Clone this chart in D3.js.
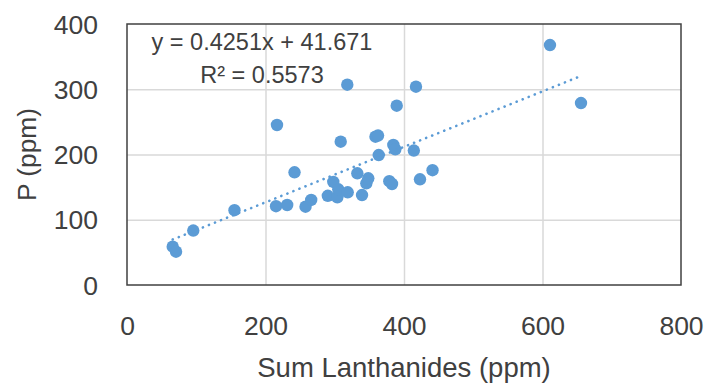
<!DOCTYPE html>
<html>
  <head>
    <title>P vs Sum Lanthanides</title>
    <script src="https://cdn.jsdelivr.net/npm/d3@7"></script>
  </head>
<style>
body {
    margin: 0;
    background: #ffffff;
}
text {
    font-family: 'Liberation Sans', Arial, sans-serif;
    fill: #404040;
}
</style>
  <body>
  </body>
<script>
// sum lanthanides (ppm)
var lanthanides = [66, 70.8, 95.7, 155.2, 216.6, 215.2, 231.3, 241.9, 257.8, 266,
                   290, 297.9, 303.7, 305.1, 308.6, 318.1, 318.7, 332.6, 339.4, 345.6,
                   348.4, 358.8, 362.5, 363.5, 378.8, 382.7, 384.6, 387.5, 389.5, 414.2,
                   417.3, 423.1, 441.2, 610.8, 655.6];
// P (ppm)
var phosphorus = [58.7, 51, 83.5, 114.6, 245.2, 120.8, 122.6, 172.7, 120, 130.3,
                  136.7, 157.9, 134.4, 146.7, 219.6, 307, 142.1, 171.2, 137.9, 155.9,
                  163.5, 227.3, 229.1, 199.2, 159.1, 154.8, 214.6, 208, 274.8, 206.1,
                  303.9, 162, 175.9, 367.8, 278.9];

var xTicks = [0, 200, 400, 600, 800];
var yTicks = [0, 100, 200, 300, 400];

// linear trendline as printed on the chart
var slope = 0.4251;
var intercept = 41.671;
var eqLabel = "y = 0.4251x + 41.671";
var r2Label = "R\u00B2 = 0.5573";

var width = 707, height = 384;
var margin = {top: 24, right: 26, bottom: 99, left: 127};
var w = width - margin.left - margin.right;
var h = height - margin.top - margin.bottom;

var svg = d3.select("body").append("svg")
    .attr("width", width)
    .attr("height", height);

var g = svg.append("g")
    .attr("transform", "translate(" + margin.left + "," + margin.top + ")");

var x = d3.scaleLinear().domain([0, 800]).range([0, w]);
var y = d3.scaleLinear().domain([0, 400]).range([h, 0]);

// gridlines
g.append("g")
    .attr("transform", "translate(0," + h + ")")
    .call(d3.axisBottom(x).tickValues(xTicks.slice(1, -1)).tickSize(-h).tickFormat(""))
    .call(function(s) { s.select(".domain").remove(); })
    .selectAll("line").attr("stroke", "#d9d9d9").attr("stroke-width", 1.5);

g.append("g")
    .call(d3.axisLeft(y).tickValues(yTicks.slice(1, -1)).tickSize(-w).tickFormat(""))
    .call(function(s) { s.select(".domain").remove(); })
    .selectAll("line").attr("stroke", "#d9d9d9").attr("stroke-width", 1.5);

// plot area border
g.append("rect")
    .attr("width", w)
    .attr("height", h)
    .attr("fill", "none")
    .attr("stroke", "#404040")
    .attr("stroke-width", 1.5);

// tick labels
var xAxis = g.append("g")
    .attr("transform", "translate(0," + h + ")")
    .call(d3.axisBottom(x).tickValues(xTicks).tickSize(0));
xAxis.select(".domain").remove();
xAxis.selectAll("text")
    .attr("y", 50).attr("dy", 0)
    .style("font-size", "26.5px")
    .style("font-family", "'Liberation Sans', Arial, sans-serif")
    .attr("fill", "#404040");

var yAxis = g.append("g")
    .call(d3.axisLeft(y).tickValues(yTicks).tickSize(0));
yAxis.select(".domain").remove();
yAxis.selectAll("text")
    .attr("x", -29).attr("dy", 9)
    .style("font-size", "26.5px")
    .style("font-family", "'Liberation Sans', Arial, sans-serif")
    .attr("fill", "#404040");

// points
var pts = lanthanides.map(function(d, i) { return [d, phosphorus[i]]; });
g.selectAll("circle")
    .data(pts)
    .enter()
    .append("circle")
    .attr("cx", function(d) { return x(d[0]); })
    .attr("cy", function(d) { return y(d[1]); })
    .attr("r", 6.2)
    .attr("fill", "#5b9bd5");

// trendline
var ext = d3.extent(lanthanides);
var line = d3.line()
    .x(function(d) { return x(d); })
    .y(function(d) { return y(slope * d + intercept); });
g.append("path")
    .datum(ext)
    .attr("d", line)
    .attr("fill", "none")
    .attr("stroke", "#5b9bd5")
    .attr("stroke-width", 2.6)
    .attr("stroke-linecap", "round")
    .attr("stroke-dasharray", "0.1 6.4");

// equation label
g.append("text")
    .attr("x", 135).attr("y", 26)
    .attr("text-anchor", "middle")
    .style("font-size", "23.5px")
    .text(eqLabel);
g.append("text")
    .attr("x", 135).attr("y", 58.7)
    .attr("text-anchor", "middle")
    .style("font-size", "23.5px")
    .text(r2Label);

// axis titles
svg.append("text")
    .attr("x", margin.left + w / 2).attr("y", 377)
    .attr("text-anchor", "middle")
    .style("font-size", "27.5px")
    .text("Sum Lanthanides (ppm)");

svg.append("text")
    .attr("transform", "translate(36," + (margin.top + h / 2) + ") rotate(-90)")
    .attr("text-anchor", "middle")
    .style("font-size", "26.3px")
    .text("P (ppm)");
</script>
</html>
